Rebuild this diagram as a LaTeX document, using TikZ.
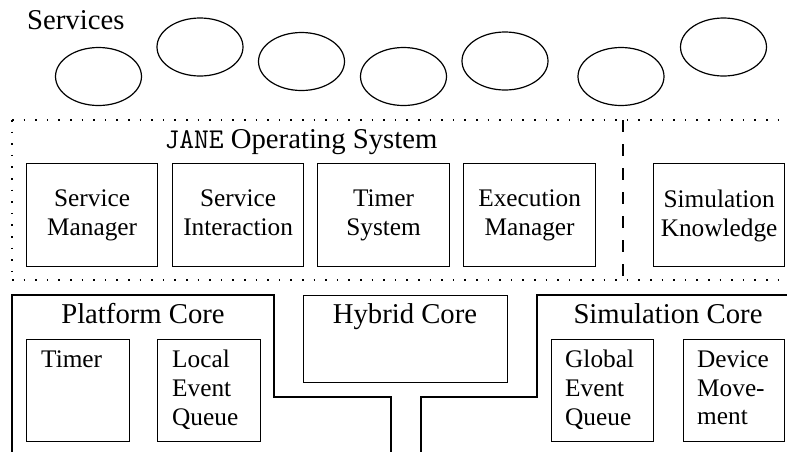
\documentclass[tikz,border=0pt]{standalone}
\usepackage{fontspec}
\setmainfont{Liberation Serif}
\usetikzlibrary{shapes.geometric}
\newcommand{\bigf}{\fontsize{28.7}{30}\selectfont}
\newcommand{\smallf}{\fontsize{25.3}{28.8}\selectfont}
\newcommand{\sa}{\rule{0pt}{17pt}}
\newcommand{\sd}{\rule[-5.5pt]{0pt}{5.5pt}}
\begin{document}
\begin{tikzpicture}[x=1pt,y=1pt,
  box/.style={draw, line width=1.2pt, inner sep=0pt, anchor=north west},
  svc/.style={draw, ellipse, line width=1.2pt, minimum width=86pt, minimum height=58pt, inner sep=0pt},
  ctext/.style={inner sep=0pt, align=center, font=\smallf},
  ltext/.style={inner sep=0pt, align=left, font=\smallf, anchor=north west},
  title/.style={inner sep=0pt, font=\bigf, anchor=base},
  outline/.style={line width=1.2pt},
  dotline/.style={line width=1.4pt, dash pattern=on 1.6pt off 10pt},
  dashline/.style={line width=1.2pt, dash pattern=on 12pt off 12pt}]
\useasboundingbox (0,0) rectangle (787,-451);
\clip (0,0) rectangle (787,-451);

% Services
\node[title, anchor=base west] (services) at (27,-29.5) {Services};
\node[svc] (s1) at (98.5,-76.5) {};
\node[svc] (s2) at (200,-47) {};
\node[svc] (s3) at (301.5,-61.5) {};
\node[svc] (s4) at (403.5,-76.5) {};
\node[svc] (s5) at (505,-61) {};
\node[svc] (s6) at (621,-76.5) {};
\node[svc] (s7) at (723.5,-47) {};

% JANE OS region
\draw[dotline] (12,-120) -- (800,-120);
\draw[dotline] (12,-120) -- (12,-280);
\draw[dotline] (12,-280) -- (800,-280);
\coordinate (dtop) at (623,-120);
\coordinate (dbot) at (623,-280);
\draw[dashline] (dtop) -- (dbot);
\node[title] (jane) at (301,-148) {{\ttfamily JANE} Operating System};

\node[box, minimum width=131pt, minimum height=103pt] (sm) at (26,-163) {};
\node[box, minimum width=131pt, minimum height=103pt] (si) at (172,-163) {};
\node[box, minimum width=132pt, minimum height=103pt] (ts) at (317,-163) {};
\node[box, minimum width=132pt, minimum height=103pt] (em) at (463,-163) {};
\node[box, minimum width=131pt, minimum height=103pt] (sk) at (653,-163) {};
\node[ctext] (smt) at (sm.center |- 0,-215.6) {\sa Service\\Manager\sd};
\node[ctext] (sit) at (si.center |- 0,-215.6) {\sa Service\\Interaction\sd};
\node[ctext] (tst) at (ts.center |- 0,-215.6) {\sa Timer\\System\sd};
\node[ctext] (emt) at (em.center |- 0,-215.6) {\sa Execution\\Manager\sd};
\node[ctext] (skt) at (sk.center |- 0,-215.6) {\sa Simulation\\Knowledge\sd};

% Cores
\draw[outline] (12,-470) -- (12,-295) -- (274,-295) -- (274,-397) -- (391,-397) -- (391,-470);
\node[title] (pc) at (143,-323) {Platform Core};
\node[box, minimum width=204pt, minimum height=87pt] (hc) at (303,-295) {};
\node[title] (hct) at (405,-323) {Hybrid Core};
\draw[outline] (421,-470) -- (421,-397) -- (537,-397) -- (537,-295) -- (800,-295) -- (800,-470);
\node[title] (sc) at (668,-323) {Simulation Core};

\node[box, minimum width=103pt, minimum height=102pt] (tm) at (26,-339) {};
\node[box, minimum width=103pt, minimum height=102pt] (lq) at (157,-339) {};
\node[box, minimum width=102pt, minimum height=102pt] (gq) at (551,-339) {};
\node[box, minimum width=101pt, minimum height=102pt] (dm) at (683,-339) {};
\node[ltext] (tmt) at (41,-350) {\sa Timer};
\node[ltext] (lqt) at (172,-350) {\sa Local\\Event\\Queue};
\node[ltext] (gqt) at (565,-350) {\sa Global\\Event\\Queue};
\node[ltext] (dmt) at (697,-350) {\sa Device\\Move-\\ment};
\end{tikzpicture}
\end{document}
